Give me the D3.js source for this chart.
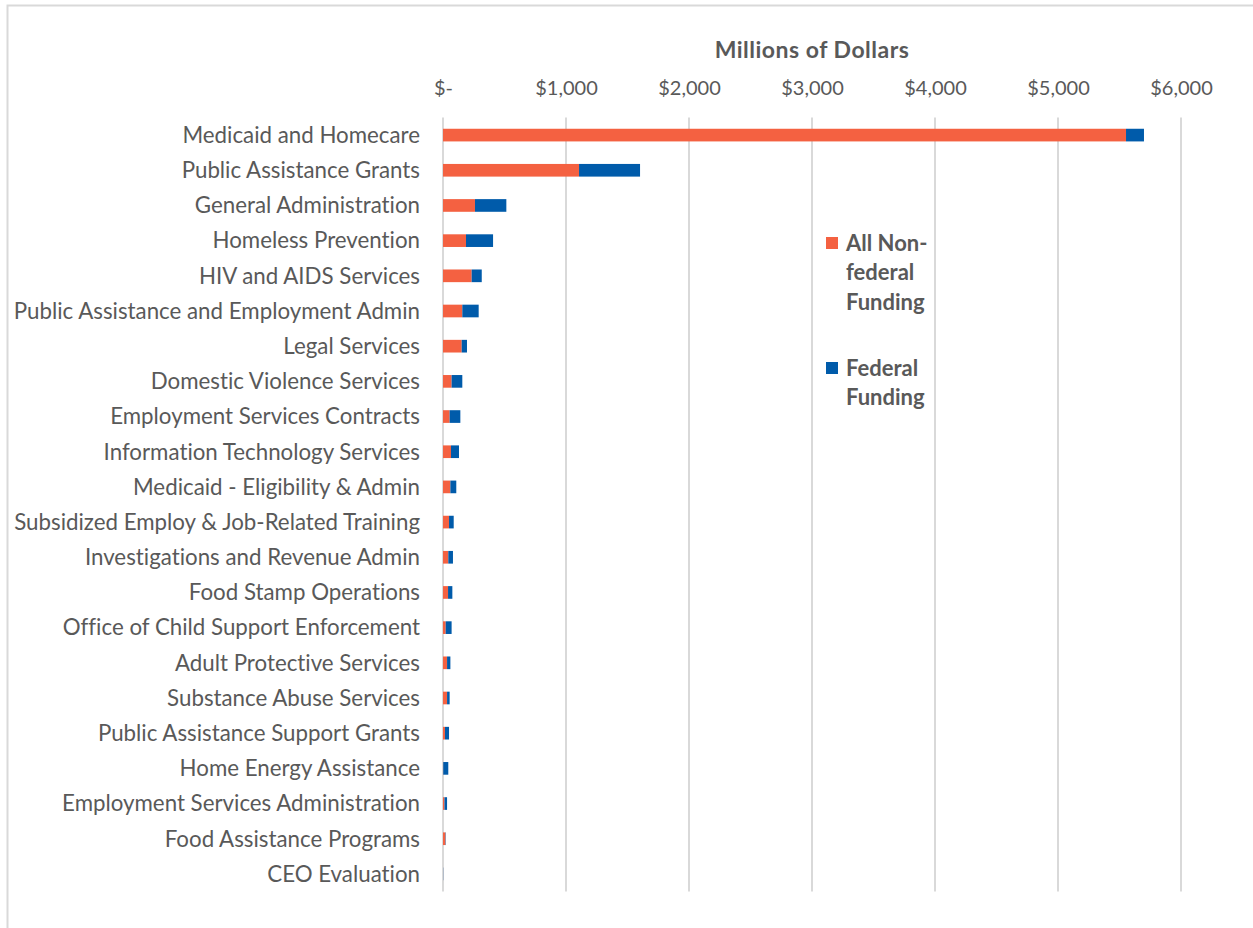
<!DOCTYPE html>
<html>
<head>
<meta charset="utf-8">
<script src="https://cdn.jsdelivr.net/npm/d3@7"></script>
<style>
  html, body { margin: 0; padding: 0; background: #fff; }
  svg { display: block; }
  text { font-family: Lato, "Open Sans", sans-serif; font-variant-ligatures: none; font-feature-settings: "liga" 0, "clig" 0; }
</style>
</head>
<body>
<svg id="chart" width="1253" height="928"></svg>
<script>
// Program areas, top to bottom
const categories = [
  "Medicaid and Homecare",
  "Public Assistance Grants",
  "General Administration",
  "Homeless Prevention",
  "HIV and AIDS Services",
  "Public Assistance and Employment Admin",
  "Legal Services",
  "Domestic Violence Services",
  "Employment Services Contracts",
  "Information Technology Services",
  "Medicaid - Eligibility & Admin",
  "Subsidized Employ & Job-Related Training",
  "Investigations and Revenue Admin",
  "Food Stamp Operations",
  "Office of Child Support Enforcement",
  "Adult Protective Services",
  "Substance Abuse Services",
  "Public Assistance Support Grants",
  "Home Energy Assistance",
  "Employment Services Administration",
  "Food Assistance Programs",
  "CEO Evaluation"
];

// Millions of dollars
const nonFederal = [5553, 1106, 260, 187, 233, 157, 152, 70, 54, 65, 60, 49, 43, 41, 22, 33, 33, 16, 2, 12, 20, 0.5];
const federal    = [146,  496,  255, 220, 82,  133, 43,  87, 87, 65, 48, 38, 38, 35, 48, 27, 21, 33, 41, 21, 3,  1.5];

const tickValues = [0, 1000, 2000, 3000, 4000, 5000, 6000];
const tickLabels = ["$-", "$1,000", "$2,000", "$3,000", "$4,000", "$5,000", "$6,000"];

const seriesNames = ["All Non-federal Funding", "Federal Funding"];
const seriesColors = ["#F46141", "#005BAA"];

const svg = d3.select("#chart");
const textColor = "#595959";

// chart frame
svg.append("rect")
  .attr("x", 7.5).attr("y", 5.5)
  .attr("width", 1260).attr("height", 940)
  .attr("fill", "#fff")
  .attr("stroke", "#d9d9d9").attr("stroke-width", 2);

const plot = { left: 443, right: 1181, top: 117.5, bottom: 891.5 };

const x = d3.scaleLinear().domain([0, 6000]).range([plot.left, plot.right]);
const y = d3.scaleBand().domain(categories).range([plot.top, plot.bottom]).paddingInner(0.64).paddingOuter(0.32);

// vertical gridlines
svg.append("g")
  .selectAll("line")
  .data(tickValues)
  .join("line")
  .attr("x1", d => x(d)).attr("x2", d => x(d))
  .attr("y1", plot.top).attr("y2", plot.bottom)
  .attr("stroke", "#d9d9d9").attr("stroke-width", 2);

// top axis labels
const axis = d3.axisTop(x).tickValues(tickValues).tickFormat((d, i) => tickLabels[i]).tickSize(0).tickPadding(0);
const axisG = svg.append("g").attr("transform", `translate(0, 95)`).call(axis);
axisG.select(".domain").remove();
axisG.selectAll("text")
  .attr("fill", textColor)
  .style("font-size", "20px")
  .style("font-family", "Lato, sans-serif");

// axis title
svg.append("text")
  .attr("x", x(3000)).attr("y", 58)
  .attr("text-anchor", "middle")
  .attr("fill", textColor)
  .style("font-size", "23px").style("font-weight", "bold")
  .style("letter-spacing", "0.5px")
  .text("Millions of Dollars");

// stacked bars
const rows = categories.map((c, i) => ({ name: c, nonFederal: nonFederal[i], federal: federal[i] }));
const stack = d3.stack().keys(["nonFederal", "federal"]);
const layers = stack(rows);

svg.append("g")
  .selectAll("g")
  .data(layers)
  .join("g")
  .attr("fill", (d, i) => seriesColors[i])
  .selectAll("rect")
  .data(d => d)
  .join("rect")
  .attr("x", d => x(d[0]))
  .attr("y", d => y(d.data.name))
  .attr("width", d => Math.max(0, x(d[1]) - x(d[0])))
  .attr("height", y.bandwidth());

// category labels
svg.append("g")
  .selectAll("text")
  .data(categories)
  .join("text")
  .attr("x", 420)
  .attr("y", d => y(d) + y.bandwidth() / 2)
  .attr("dy", "0.35em")
  .attr("text-anchor", "end")
  .attr("fill", textColor)
  .style("font-size", "22.3px")
  .text(d => d);

// legend
const legendItems = [
  { lines: ["All Non-", "federal", "Funding"], color: seriesColors[0], y: 243 },
  { lines: ["Federal", "Funding"], color: seriesColors[1], y: 368 }
];
const legend = svg.append("g");
legendItems.forEach(item => {
  legend.append("rect")
    .attr("x", 826).attr("y", item.y - 6)
    .attr("width", 12).attr("height", 12)
    .attr("fill", item.color);
  legend.append("text")
    .attr("fill", textColor)
    .style("font-size", "22px").style("font-weight", "bold")
    .selectAll("tspan")
    .data(item.lines)
    .join("tspan")
    .attr("x", 846)
    .attr("y", (d, i) => item.y + i * 29.5)
    .attr("dy", "0.35em")
    .text(d => d);
});
</script>
</body>
</html>
